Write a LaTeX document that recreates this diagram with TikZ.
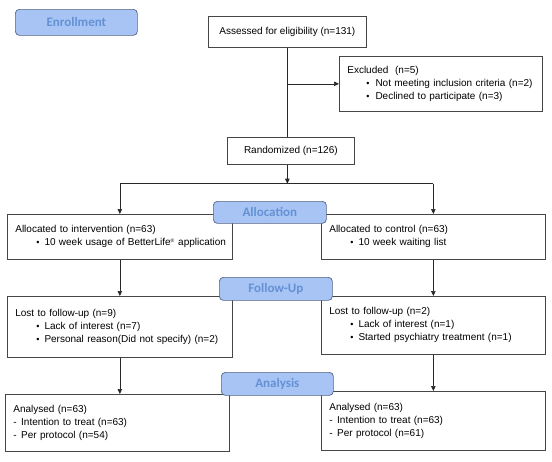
\documentclass[tikz,border=0pt]{standalone}
\usepackage{fontspec}
\setmainfont{Liberation Sans}
\newfontfamily\headfont{Carlito}
\definecolor{phasefill}{RGB}{168, 196, 245}
\definecolor{phaseline}{RGB}{85, 100, 130}
\definecolor{phasetext}{RGB}{100, 145, 212}
\definecolor{boxline}{RGB}{70, 70, 70}
\definecolor{linkgray}{RGB}{40, 40, 40}
\usetikzlibrary{arrows.meta, positioning, calc}

\tikzset{
  flowbox/.style={draw=boxline, line width=0.7pt, fill=white, anchor=north west, inner xsep=8pt, inner ysep=0pt, align=left, font=\fontsize{10}{13}\selectfont},
  phasebox/.style={draw=phaseline, line width=0.7pt, fill=phasefill, rounded corners=4pt, anchor=north west, inner sep=0pt, text=phasetext, font=\headfont\bfseries\fontsize{13}{15}\selectfont},
  link/.style={draw=linkgray, line width=0.7pt},
  linkarrow/.style={link, -{Triangle[length=5pt, width=4.5pt]}}
}
\newcommand{\bitem}{\hspace*{21pt}{\small\textbullet}\hspace{5pt}}
\newcommand{\ditem}{-\hspace{4.5pt}}

\begin{document}
\begin{tikzpicture}[x=1pt, y=-1pt]
  \useasboundingbox (0,0) rectangle (552,461);

  % Enrollment
  \node[flowbox, align=center, minimum width=158pt, minimum height=31pt] (assess) at (208,16) {Assessed for eligibility (n=131)};
  \node[flowbox, text width=187pt, minimum height=55pt] (excl) at (339,56) {
    Excluded\ \ (n=5)\\
    \hspace*{19pt}{\small\textbullet}\hspace{6pt}Not meeting inclusion criteria (n=2)\\
    \hspace*{19pt}{\small\textbullet}\hspace{6pt}Declined to participate (n=3)};
  \node[flowbox, align=center, minimum width=127pt, minimum height=27pt] (rand) at (227,137) {Randomized (n=126)};

  % Allocation
  \node[flowbox, text width=209pt, minimum height=45pt] (interv) at (7,214) {
    Allocated to intervention (n=63)\\
    \mbox{\bitem 10 week usage of BetterLife\textsuperscript{\tiny ®} application}};
  \node[flowbox, text width=208pt, minimum height=45pt] (ctrl) at (321,214) {
    Allocated to control (n=63)\\
    \bitem 10 week waiting list};

  % Follow-Up
  \node[flowbox, text width=209pt, minimum height=61pt] (lostL) at (7,296) {
    Lost to follow-up (n=9)\\
    \bitem Lack of interest (n=7)\\
    \bitem Personal reason(Did not specify) (n=2)};
  \node[flowbox, text width=208pt, minimum height=58pt] (lostR) at (321,296) {
    Lost to follow-up (n=2)\\
    \bitem Lack of interest (n=1)\\
    \bitem Started psychiatry treatment (n=1)};

  % Analysis
  \node[flowbox, text width=208pt, minimum height=57pt] (anaL) at (5,394) {
    Analysed (n=63)\\
    \ditem Intention to treat (n=63)\\
    \ditem Per protocol (n=54)};
  \node[flowbox, text width=208pt, minimum height=59pt] (anaR) at (321,391) {
    Analysed (n=63)\\
    \ditem Intention to treat (n=63)\\
    \ditem Per protocol (n=61)};

  % connectors
  \coordinate (split) at (assess.south |- rand.north);
  \coordinate (exclturn) at (assess.south |- excl.west);
  \coordinate (randout) at (assess.south |- rand.south);
  \coordinate (fork) at ($(randout)+(0,19)$);
  \coordinate (forkL) at (interv.north |- fork);
  \coordinate (forkR) at (ctrl.north |- fork);
  \draw[link] (assess.south) -- (split);
  \draw[linkarrow] (exclturn) -- (excl.west);
  \draw[linkarrow] (randout) -- (fork);
  \draw[link] (forkL) -- (forkR);
  \draw[linkarrow] (forkL) -- (interv.north);
  \draw[linkarrow] (forkR) -- (ctrl.north);
  \draw[linkarrow] (interv.south) -- (lostL.north -| interv.south);
  \draw[linkarrow] (ctrl.south) -- (lostR.north -| ctrl.south);
  \draw[linkarrow] (lostL.south) -- (lostL.south |- anaL.north);
  \draw[linkarrow] (lostR.south) -- (lostR.south |- anaR.north);

  % phase labels
  \node[phasebox, minimum width=122pt, minimum height=26pt] (enroll) at (15,9) {Enrollment};
  \node[phasebox, minimum width=113pt, minimum height=22pt] (alloc) at (213,201) {Allocation};
  \node[phasebox, minimum width=113pt, minimum height=23pt] (follow) at (219,277) {Follow-Up};
  \node[phasebox, minimum width=112pt, minimum height=23pt] (analysis) at (221,372) {Analysis};
\end{tikzpicture}
\end{document}
